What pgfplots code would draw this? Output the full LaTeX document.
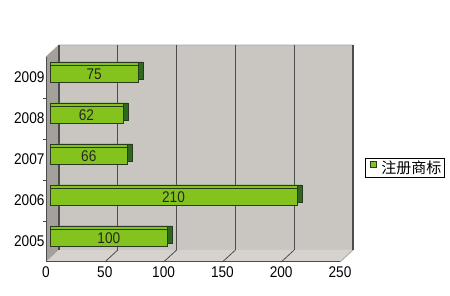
\documentclass[border=0pt]{standalone}
\usepackage{pgfplots}
\pgfplotsset{compat=1.18}
\usepackage{pgfplotstable}
\usepackage{fontspec}
\setmainfont{Liberation Sans}[FakeStretch=0.88]
\newfontfamily\cjk{Noto Sans CJK SC}
\definecolor{wall}{HTML}{C9C5C1}
\definecolor{sidewall}{HTML}{A4A09C}
\definecolor{floorc}{HTML}{D6D3CF}
\definecolor{barfront}{HTML}{84C31E}
\definecolor{barside}{HTML}{2E6A1E}
\definecolor{barline}{HTML}{2A3A20}

\pgfplotstableread{
y v
0 100
1 210
2 66
3 62
4 75
}\data

\begin{document}
\begin{tikzpicture}
\path (0,0) rectangle (450pt,296pt);
\begin{axis}[
  set layers,
  scale only axis, width=294pt, height=205pt,
  at={(46pt,34pt)}, anchor=south west,
  xmin=0, xmax=250, ymin=-0.5, ymax=4.5,
  clip=false,
  axis lines=left, axis line style={-, draw=black!70, line width=1pt},
  xtick={0,50,...,250},
  ytick={0,1,2,3,4}, yticklabels={2005,2006,2007,2008,2009},
  minor ytick={0.5,1.5,2.5,3.5},
  major tick length=0pt, minor tick length=3pt, tick align=outside,
  tick style={draw=black!70, line width=0.8pt},
  xmajorgrids, major grid style={draw=black!70, line width=1.2pt, xshift=13pt, yshift=12pt},
  font=\fontsize{15.5}{17}\selectfont,
  /pgf/number format/assume math mode=true,
  xticklabel style={yshift=-1.5pt},
  yticklabel style={xshift=2pt},
  legend style={at={(1.085,0.461)}, anchor=west, draw=black, line width=0.8pt,
    inner sep=0.5pt, font=\cjk\fontsize{15}{17}\selectfont},
  legend cell align=left,
  legend image code/.code={\path (0pt,0pt) (13pt,0pt);\draw[fill=barfront, draw=barline, line width=0.6pt] (4pt,-3pt) rectangle (10pt,3pt);},
]
\begin{pgfonlayer}{axis background}
\fill[wall] ([shift={(13pt,12pt)}]rel axis cs:0,0) rectangle ([shift={(13pt,12pt)}]rel axis cs:1,1);
\fill[sidewall] (rel axis cs:0,0) -- (rel axis cs:0,1) -- ([shift={(13pt,12pt)}]rel axis cs:0,1) -- ([shift={(13pt,12pt)}]rel axis cs:0,0) -- cycle;
\fill[floorc] (rel axis cs:0,0) -- (rel axis cs:1,0) -- ([shift={(13pt,12pt)}]rel axis cs:1,0) -- ([shift={(13pt,12pt)}]rel axis cs:0,0) -- cycle;
\draw[black!35, line width=0.8pt] (rel axis cs:1,0) -- ++(13pt,12pt) -- ([shift={(13pt,12pt)}]rel axis cs:1,1) -- ([shift={(13pt,12pt)}]rel axis cs:0,1) -- (rel axis cs:0,1);
\end{pgfonlayer}
\pgfplotsinvokeforeach{50,100,150,200}{\draw[black!70, line width=0.8pt] (axis cs:#1,-0.5) -- ++(13pt,12pt);}
\addplot[xbar, bar width=17pt, fill=barside, draw=barline, line width=0.6pt, xshift=9pt, yshift=7pt, forget plot] table[x=v,y=y]{\data};
\addplot[xbar, bar width=17pt, fill=barfront, draw=barline, line width=0.6pt, xshift=4pt, yshift=7pt, forget plot] table[x=v,y=y]{\data};
\addplot[xbar, bar width=17pt, fill=barfront, draw=barline, line width=0.6pt, xshift=4pt, yshift=3.5pt] table[x=v,y=y]{\data};
\addlegendentry{注册商标}
\addplot[draw=none, mark=none, xshift=4pt, yshift=3.5pt, nodes near coords, point meta=explicit,
  every node near coord/.append style={anchor=center, text=black!85}, forget plot]
  table[x expr=\thisrow{v}/2, y=y, meta=v]{\data};
\end{axis}
\end{tikzpicture}
\end{document}
